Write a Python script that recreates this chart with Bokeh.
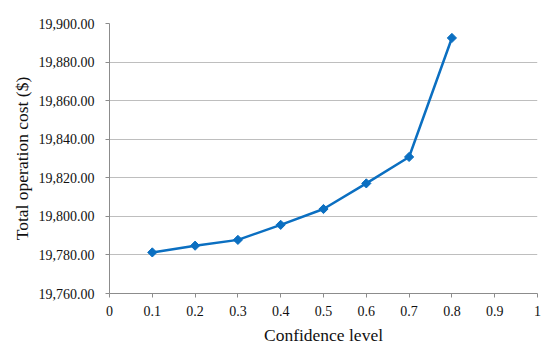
import math
from bokeh.plotting import figure
from bokeh.embed import file_html
from bokeh.resources import INLINE
from bokeh.models import FixedTicker, NumeralTickFormatter, Range1d

confidence = [0.1, 0.2, 0.3, 0.4, 0.5, 0.6, 0.7, 0.8]
cost = [19781.3, 19784.8, 19787.8, 19795.6, 19803.8, 19817.1, 19830.8, 19892.5]
x_ticks = [0, 0.1, 0.2, 0.3, 0.4, 0.5, 0.6, 0.7, 0.8, 0.9, 1.0]
x_labels = ["0", "0.1", "0.2", "0.3", "0.4", "0.5", "0.6", "0.7", "0.8", "0.9", "1"]
y_ticks = [19760, 19780, 19800, 19820, 19840, 19860, 19880, 19900]

FONT = "Liberation Serif"
BLUE = "#0B6FC1"

p = figure(width=550, height=351, output_backend="svg", toolbar_location=None,
           x_range=Range1d(0, 1), y_range=Range1d(19760, 19900),
           min_border_left=109, min_border_right=13, min_border_top=23, min_border_bottom=58)
p.outline_line_color = None
p.background_fill_color = "white"
p.border_fill_color = "white"

p.line(confidence, cost, line_color=BLUE, line_width=2.5)
p.scatter(confidence, cost, marker="square", size=6.5, angle=math.pi / 4,
          fill_color=BLUE, line_color=BLUE, line_width=1)

p.xgrid.visible = False
p.ygrid.ticker = FixedTicker(ticks=y_ticks)
p.ygrid.grid_line_color = "#BEBEBE"
p.ygrid.grid_line_width = 1.2

for ax in (p.xaxis[0], p.yaxis[0]):
    ax.axis_line_color = "#8C8C8C"
    ax.major_tick_line_color = "#8C8C8C"
    ax.minor_tick_line_color = None
    ax.major_tick_in = 0
    ax.major_tick_out = 4
    ax.major_label_text_font = FONT
    ax.major_label_text_font_size = "14px"
    ax.major_label_text_color = "#111111"
    ax.axis_label_text_font = FONT
    ax.axis_label_text_font_size = "17.5px"
    ax.axis_label_text_font_style = "normal"
    ax.axis_label_text_color = "#111111"

p.xaxis.ticker = FixedTicker(ticks=x_ticks)
p.xaxis.major_label_overrides = {t: l for t, l in zip(x_ticks, x_labels)}
p.xaxis.major_label_standoff = 8
p.xaxis.axis_label = "Confidence level"
p.xaxis.axis_label_standoff = 6

p.yaxis.ticker = FixedTicker(ticks=y_ticks)
p.yaxis.formatter = NumeralTickFormatter(format="0,0.00")
p.yaxis.major_label_standoff = 11
p.yaxis.axis_label = "Total operation cost ($)"
p.yaxis.axis_label_standoff = 4

open("out.html", "w").write(file_html(p, INLINE))
